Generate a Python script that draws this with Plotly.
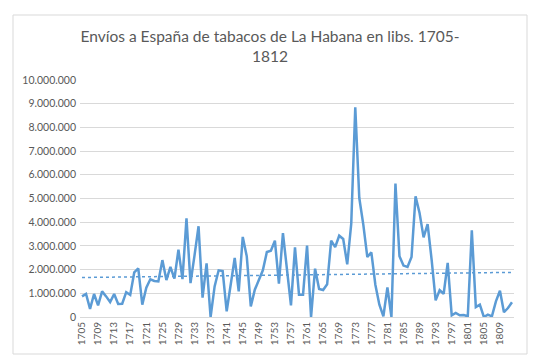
import numpy as np
import plotly.graph_objects as go

years = list(range(1705, 1813))
libras = [
    870000, 970000, 340000, 970000, 490000, 1080000, 870000, 630000, 970000, 550000,   # 1705-1714
    560000, 1050000, 930000, 1880000, 2050000, 520000, 1240000, 1590000, 1520000, 1500000,  # 1715-1724
    2400000, 1560000, 2110000, 1620000, 2840000, 1600000, 4160000, 1430000, 2600000, 3830000,  # 1725-1734
    820000, 2260000, 0, 1290000, 1970000, 1940000, 240000, 1300000, 2490000, 1080000,  # 1735-1744
    3380000, 2560000, 450000, 1150000, 1580000, 1970000, 2740000, 2800000, 3220000, 1410000,  # 1745-1754
    3540000, 2030000, 490000, 2940000, 940000, 940000, 3010000, 0, 2040000, 1180000,  # 1755-1764
    1140000, 1380000, 3220000, 2950000, 3430000, 3290000, 2220000, 3940000, 8850000, 5020000,  # 1765-1774
    3900000, 2530000, 2730000, 1360000, 520000, 30000, 1250000, 0, 5630000, 2560000,  # 1775-1784
    2170000, 2110000, 2530000, 5090000, 4390000, 3360000, 3920000, 2420000, 700000, 1130000,  # 1785-1794
    980000, 2280000, 70000, 170000, 70000, 80000, 30000, 3660000, 420000, 520000,  # 1795-1804
    0, 100000, 30000, 660000, 1110000, 200000, 380000, 620000,  # 1805-1812
]
tick_years = list(range(1705, 1813, 4))
y_ticks = list(range(0, 10000001, 1000000))
title_text = "Envíos a España de tabacos de La Habana en libs. 1705-<br>1812"

# linear trendline (as Excel)
coef = np.polyfit(np.array(years, dtype=float), np.array(libras, dtype=float), 1)
trend = list(np.polyval(coef, np.array(years, dtype=float)))

blue = "#5B9BD5"
grey = "#595959"
font = "Lato, 'Open Sans', sans-serif"

fig = go.Figure()
fig.add_trace(go.Scatter(x=years, y=libras, mode="lines",
                         line=dict(color=blue, width=2.5), showlegend=False,
                         hoverinfo="x+y"))
fig.add_trace(go.Scatter(x=years, y=trend, mode="lines",
                         line=dict(color=blue, width=1.5, dash="dot"),
                         showlegend=False, hoverinfo="skip"))

# page has an 8px body margin: figure origin is at page (8, 8)
OFF = 8
W, H = 556 - OFF, 364 - OFF
L, T = 80 - OFF, 80 - OFF
R = W - (514 - OFF)
B = H - (317 - OFF)
pw, ph = W - L - R, H - T - B

def px_to_paper_x(px):
    return (px - OFF - L) / pw

def px_to_paper_y(py):
    return (H - B - (py - OFF)) / ph

fig.add_shape(type="rect", xref="paper", yref="paper",
              x0=px_to_paper_x(13), x1=px_to_paper_x(527),
              y0=px_to_paper_y(354), y1=px_to_paper_y(15),
              line=dict(color="#D9D9D9", width=1), fillcolor="rgba(0,0,0,0)",
              layer="below")

fig.update_layout(
    width=W, height=H,
    margin=dict(l=L, r=R, t=T, b=B, autoexpand=False),
    paper_bgcolor="white", plot_bgcolor="white",
    separators=",.",
    title=dict(text=title_text, x=px_to_paper_x(270), xref="paper", xanchor="center",
               y=1 - (42 - OFF) / H, yref="container", yanchor="top",
               font=dict(family=font, size=15.5, color=grey)),
    font=dict(family=font, color=grey),
    xaxis=dict(range=[1704.5, 1812.5], tickvals=tick_years,
               ticktext=[str(t) for t in tick_years], tickangle=-90,
               showgrid=False, zeroline=False, showline=True,
               linecolor="#D9D9D9", linewidth=1, ticks="",
               tickfont=dict(family=font, size=10, color=grey)),
    yaxis=dict(range=[0, 10000000], tickvals=y_ticks, tickformat=",d",
               showgrid=True, gridcolor="#D9D9D9", gridwidth=1,
               zeroline=False, showline=False, ticks="", ticklabelstandoff=3,
               tickfont=dict(family=font, size=10.5, color=grey)),
)

fig.write_html("out.html")
